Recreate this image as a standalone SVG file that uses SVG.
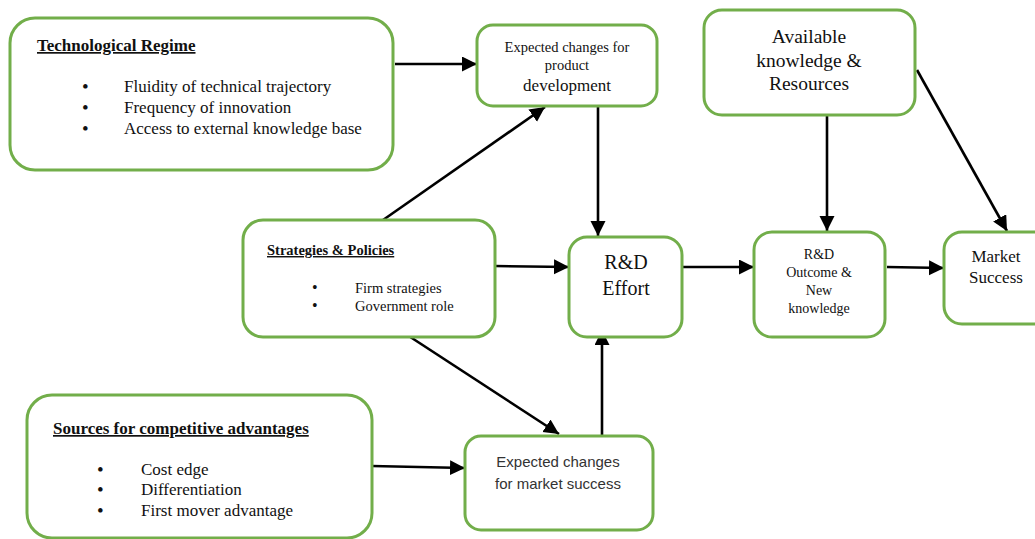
<svg xmlns="http://www.w3.org/2000/svg" width="1035" height="539" viewBox="0 0 1035 539">
<defs>
<style>
.box{fill:#ffffff;stroke:#72AE4A;stroke-width:3}
.t{font-family:"Liberation Serif","Times New Roman",serif;fill:#111}
.s{font-family:"Liberation Sans",Arial,sans-serif;fill:#333}
.h{font-weight:bold;text-decoration:underline}
.c{text-anchor:middle}
.b{font-size:19px}
.bs{font-size:16px}
.con{stroke:#000;stroke-width:2.6;fill:none;marker-end:url(#ah)}
</style>
<marker id="ah" markerUnits="userSpaceOnUse" markerWidth="16" markerHeight="16" refX="15" refY="7.5" orient="auto">
<path d="M0,0 L15,7.5 L0,15 z" fill="#000"/>
</marker>
</defs>
<rect width="1035" height="539" fill="#fff"/>

<g id="connectors">
<line class="con" x1="395" y1="64" x2="477" y2="64"/>
<line class="con" x1="383" y1="220" x2="545" y2="107"/>
<line class="con" x1="598" y1="106" x2="598" y2="236"/>
<line class="con" x1="495" y1="266" x2="569" y2="267"/>
<line class="con" x1="682" y1="267" x2="754" y2="267"/>
<line class="con" x1="827" y1="108" x2="827" y2="231"/>
<line class="con" x1="917" y1="70" x2="1007" y2="231"/>
<line class="con" x1="887" y1="267" x2="944" y2="268"/>
<line class="con" x1="395" y1="327" x2="559" y2="434"/>
<line class="con" x1="602" y1="436" x2="602" y2="330"/>
<line class="con" x1="372" y1="466" x2="465" y2="468"/>
</g>

<g id="tech-regime">
<rect class="box" x="10" y="18" width="383" height="152" rx="25"/>
<text class="t h" x="37" y="51" font-size="17">Technological Regime</text>
<text class="t" font-size="17"><tspan class="b" x="82" y="93">•</tspan><tspan x="124" y="92">Fluidity of technical trajectory</tspan><tspan class="b" x="82" y="114">•</tspan><tspan x="124" y="113">Frequency of innovation</tspan><tspan class="b" x="82" y="135">•</tspan><tspan x="124" y="134">Access to external knowledge base</tspan></text>
</g>

<g id="expected-product">
<rect class="box" x="477" y="25" width="180" height="81" rx="16"/>
<text class="t c" x="567" y="52" font-size="14.5">Expected changes for</text>
<text class="t c" x="567" y="70" font-size="14.5">product</text>
<text class="t c" x="567" y="91" font-size="17">development</text>
</g>

<g id="available-knowledge">
<rect class="box" x="704" y="10" width="211" height="105" rx="18"/>
<text class="t c" x="809" y="43" font-size="19.5">Available</text>
<text class="t c" x="809" y="67" font-size="19.5">knowledge &amp;</text>
<text class="t c" x="809" y="90" font-size="19.5">Resources</text>
</g>

<g id="strategies">
<rect class="box" x="243" y="220" width="252" height="117" rx="20"/>
<text class="t h" x="267" y="255" font-size="14.5">Strategies &amp; Policies</text>
<text class="t" font-size="14.5"><tspan class="bs" x="312" y="293">•</tspan><tspan x="355" y="293">Firm strategies</tspan><tspan class="bs" x="312" y="311">•</tspan><tspan x="355" y="311">Government role</tspan></text>
</g>

<g id="rd-effort">
<rect class="box" x="569" y="237" width="113" height="100" rx="18"/>
<text class="t c" x="626" y="269" font-size="20">R&amp;D</text>
<text class="t c" x="626" y="295" font-size="20">Effort</text>
</g>

<g id="rd-outcome">
<rect class="box" x="754" y="232" width="131" height="105" rx="18"/>
<text class="t c" x="819" y="259" font-size="14">R&amp;D</text>
<text class="t c" x="819" y="277" font-size="14">Outcome &amp;</text>
<text class="t c" x="819" y="295" font-size="14">New</text>
<text class="t c" x="819" y="313" font-size="14">knowledge</text>
</g>

<g id="market-success">
<rect class="box" x="944" y="232" width="110" height="92" rx="18"/>
<text class="t c" x="996" y="262" font-size="17">Market</text>
<text class="t c" x="996" y="283" font-size="17">Success</text>
</g>

<g id="sources">
<rect class="box" x="27" y="395" width="345" height="143" rx="25"/>
<text class="t h" x="53" y="434" font-size="17">Sources for competitive advantages</text>
<text class="t" font-size="17"><tspan class="b" x="97" y="476">•</tspan><tspan x="141" y="475">Cost edge</tspan><tspan class="b" x="97" y="496">•</tspan><tspan x="141" y="495">Differentiation</tspan><tspan class="b" x="97" y="517">•</tspan><tspan x="141" y="516">First mover advantage</tspan></text>
</g>

<g id="expected-market">
<rect class="box" x="465" y="436" width="188" height="94" rx="16"/>
<text class="s c" x="558" y="467" font-size="15">Expected changes</text>
<text class="s c" x="558" y="489" font-size="15">for market success</text>
</g>
</svg>
